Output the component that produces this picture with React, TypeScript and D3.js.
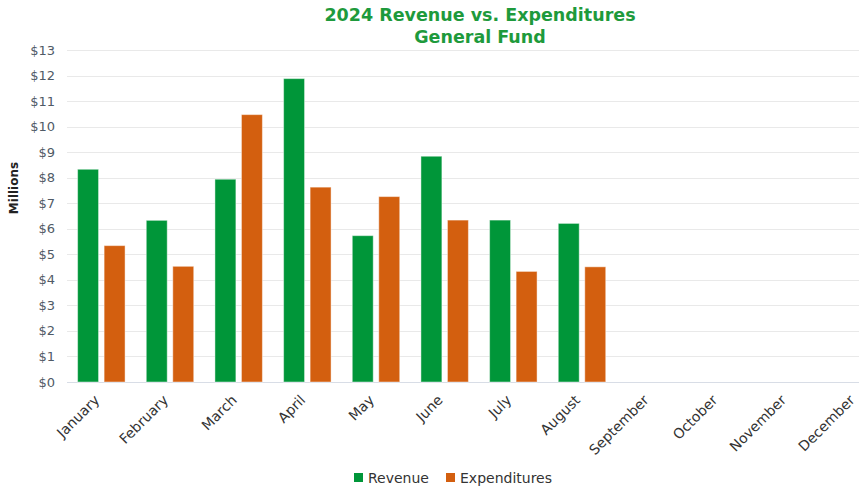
import React, { useEffect, useRef } from 'react';
import * as d3 from 'd3';

const months = [
  'January', 'February', 'March', 'April', 'May', 'June',
  'July', 'August', 'September', 'October', 'November', 'December',
];
const series = ['Revenue', 'Expenditures'];
// millions of dollars, Jan..Aug (rest not reported yet)
const revenue = [8.33, 6.33, 7.94, 11.88, 5.73, 8.84, 6.34, 6.21];
const expenditures = [5.34, 4.53, 10.47, 7.63, 7.26, 6.34, 4.33, 4.51];
const yTicks = [0, 1, 2, 3, 4, 5, 6, 7, 8, 9, 10, 11, 12, 13];
const colors = ['#009639', '#d35f0f'];

const App: React.FC = () => {
  const svgRef = useRef<SVGSVGElement | null>(null);

  useEffect(() => {
    const totalWidth = 859;
    const totalHeight = 490;
    const font = '"DejaVu Sans", Verdana, sans-serif';

    const svg = d3.select(svgRef.current)
      .attr('width', totalWidth)
      .attr('height', totalHeight);
    svg.selectAll('*').remove();

    // plot area runs past the right edge (the source image is cropped)
    const x = d3.scaleBand<string>().domain(months).range([67, 891]);
    const xInner = d3.scaleBand<string>()
      .domain(series)
      .range([0, x.bandwidth()])
      .paddingInner(0.21)
      .paddingOuter(0.4);
    const y = d3.scaleLinear().domain([0, 13]).range([382, 50]);

    // grid
    svg.append('g')
      .selectAll('line')
      .data(yTicks)
      .enter().append('line')
      .attr('x1', 67)
      .attr('x2', 891)
      .attr('y1', d => Math.round(y(d)) + 0.5)
      .attr('y2', d => Math.round(y(d)) + 0.5)
      .attr('stroke', d => (d === 0 ? '#d8dde6' : '#e9e9e9'))
      .attr('stroke-width', 1);

    // y labels
    svg.append('g')
      .selectAll('text')
      .data(yTicks)
      .enter().append('text')
      .attr('x', 55)
      .attr('y', d => y(d))
      .attr('dy', '0.35em')
      .attr('text-anchor', 'end')
      .attr('font-family', font)
      .attr('font-size', 13)
      .attr('fill', '#505a66')
      .text(d => `$${d}`);

    svg.append('text')
      .attr('transform', 'translate(18, 188) rotate(-90)')
      .attr('text-anchor', 'middle')
      .attr('font-family', font)
      .attr('font-size', 12)
      .attr('font-weight', 'bold')
      .attr('fill', '#222')
      .text('Millions');

    // bars
    const values = [revenue, expenditures];
    series.forEach((s, si) => {
      svg.append('g')
        .selectAll('rect')
        .data(values[si])
        .enter().append('rect')
        .attr('x', (_d, i) => (x(months[i]) as number) + (xInner(s) as number))
        .attr('y', d => y(d))
        .attr('width', xInner.bandwidth())
        .attr('height', d => y(0) - y(d))
        .attr('fill', colors[si])
        .attr('stroke', '#ffffff')
        .attr('stroke-opacity', 0.45)
        .attr('stroke-width', 1);
    });

    // x labels
    svg.append('g')
      .selectAll('text')
      .data(months)
      .enter().append('text')
      .attr('transform', d => `translate(${(x(d) as number) + x.bandwidth() / 2 - 1}, 401) rotate(-45)`)
      .attr('text-anchor', 'end')
      .attr('font-family', font)
      .attr('font-size', 14)
      .attr('fill', '#333')
      .text(d => d);

    // title
    const title = svg.append('text')
      .attr('text-anchor', 'middle')
      .attr('font-family', font)
      .attr('font-size', 17.5)
      .attr('font-weight', 'bold')
      .attr('fill', '#1e9a3c');
    title.append('tspan').attr('x', 480).attr('y', 21).text('2024 Revenue vs. Expenditures');
    title.append('tspan').attr('x', 480).attr('y', 43).text('General Fund');

    // legend
    const legend = svg.append('g').attr('font-family', font).attr('font-size', 14).attr('fill', '#333');
    const legendX = [354, 446];
    series.forEach((s, si) => {
      legend.append('rect')
        .attr('x', legendX[si])
        .attr('y', 473)
        .attr('width', 9)
        .attr('height', 9)
        .attr('fill', colors[si]);
      legend.append('text')
        .attr('x', legendX[si] + 14)
        .attr('y', 483)
        .text(s);
    });
  }, []);

  return (
    <svg
      ref={svgRef}
      style={{ position: 'absolute', left: 0, top: 0, display: 'block', background: '#fff' }}
    />
  );
};

export default App;
